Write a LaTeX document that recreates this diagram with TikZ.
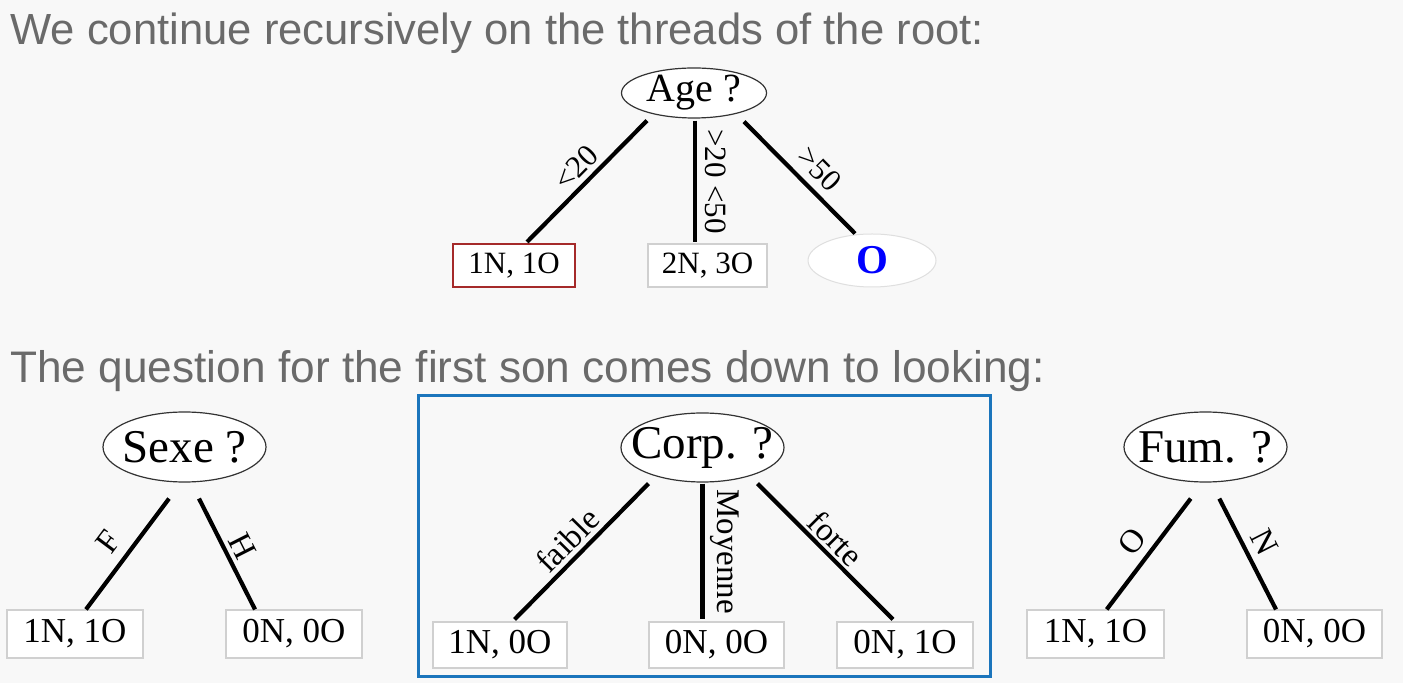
\documentclass[tikz,border=0pt]{standalone}
\usepackage{fontspec}
\setmainfont{Liberation Serif}
\newfontfamily\titlefont{Liberation Sans}
\usetikzlibrary{shapes.geometric,calc}
\definecolor{bg}{HTML}{F8F8F8}
\definecolor{titlegray}{HTML}{6A6A6A}
\definecolor{frameblue}{HTML}{1B75BC}
\definecolor{leafred}{HTML}{A52A2A}
\definecolor{leafgray}{HTML}{D0D0D0}
\begin{document}
\begin{tikzpicture}[x=0.5pt,y=-0.5pt,
  title/.style={font=\titlefont\fontsize{21.8pt}{26pt}\selectfont, text=titlegray, anchor=base west, inner sep=0},
  question/.style={ellipse, draw=black!80, line width=0.6pt, fill=white, inner sep=0},
  qA/.style={font=\fontsize{20pt}{24pt}\selectfont, inner sep=0},
  qB/.style={font=\fontsize{23.5pt}{28pt}\selectfont, inner sep=0},
  leaf/.style={rectangle, draw=leafgray, line width=0.6pt, fill=white, inner sep=0},
  leafA/.style={leaf, font=\fontsize{15.5pt}{18pt}\selectfont},
  leafB/.style={leaf, font=\fontsize{17.5pt}{21pt}\selectfont},
  edge/.style={line width=2.1pt, black},
  lblA/.style={font=\fontsize{15.5pt}{18pt}\selectfont},
  lblB/.style={font=\fontsize{16.5pt}{20pt}\selectfont}]
\path[fill=bg] (0,0) rectangle (1403,683);
\useasboundingbox (0,0) rectangle (1403,683);

% titles
\node[title] (t1) at (10,45) {We continue recursively on the threads of the root:};
\node[title, font=\titlefont\fontsize{22.1pt}{26pt}\selectfont] (t2) at (10,383) {The question for the first son comes down to looking:};

% ---- top tree ----
\node[question, minimum width=72.5pt, minimum height=25pt, label={[qA]center:Age ?}] (age) at (694,93) {};
\node[leafA, draw=leafred, line width=1pt, minimum width=61pt, minimum height=21.5pt] (la1) at (514,265.5) {1N, 1O};
\node[leafA, minimum width=59.5pt, minimum height=21.5pt] (la2) at (707.5,265.5) {2N, 3O};
\node[ellipse, draw=gray!25, line width=0.5pt, fill=white, inner sep=0, minimum width=64pt, minimum height=26.5pt,
      text=blue, font=\bfseries\fontsize{20.5pt}{24pt}\selectfont] (la3) at (872,260.5) {O};

\draw[edge] ($(age.south)+(-47,2)$) -- node[lblA, sloped, above, inner sep=2.3pt, pos=0.49] (e1) {<20} ($(la1.north)+(13,-1)$);
\draw[edge] ($(age.south)+(1,2)$) -- node[lblA, midway, rotate=-90, anchor=south, inner sep=4pt] (e2) {>20 <50} ($(la2.north)+(-12.5,-1)$);
\draw[edge] ($(age.south)+(50,3)$) -- node[lblA, sloped, above, inner sep=4pt, pos=0.55] (e3) {>50} ($(la3.north)+(-17,0)$);

% ---- Sexe tree ----
\node[question, minimum width=81.5pt, minimum height=35pt, label={[qB]center:Sexe ?}] (sx) at (184.5,447) {};
\node[leafB, minimum width=68pt, minimum height=24pt] (ls1) at (75,634) {1N, 1O};
\node[leafB, minimum width=68pt, minimum height=24pt] (ls2) at (294,634) {0N, 0O};
\draw[edge] ($(sx.south)+(-15.5,16)$) -- node[lblB, sloped, above, inner sep=4.8pt, pos=0.51] (e4) {F} ($(ls1.north)+(11,0)$);
\draw[edge] ($(sx.south)+(14.5,16)$) -- node[lblB, sloped, above, inner sep=2pt, pos=0.5] (e5) {H} ($(ls2.north)+(-39,0)$);

% ---- Corp tree (framed) ----
\draw[frameblue, line width=1.5pt] (418,396) rectangle (990,677);
\node[question, minimum width=81.5pt, minimum height=34.5pt, label={[qB]center:Corp. ?}] (cp) at (702.5,447.5) {};
\node[leafB, minimum width=67pt, minimum height=23pt] (lc1) at (500,645) {1N, 0O};
\node[leafB, minimum width=67.5pt, minimum height=23pt] (lc2) at (716.5,645) {0N, 0O};
\node[leafB, minimum width=68pt, minimum height=23pt] (lc3) at (905,645) {0N, 1O};
\draw[edge] ($(cp.south)+(-54,1)$) -- node[lblB, sloped, above, inner sep=2.1pt, pos=0.51] (e6) {faible} ($(lc1.north)+(14.6,-2)$);
\draw[edge] ($(cp.south)+(0,1)$) -- node[lblB, midway, rotate=-90, anchor=south, inner sep=3pt] (e7) {Moyenne} ($(lc2.north)+(-14,-2)$);
\draw[edge] ($(cp.south)+(55,1)$) -- node[lblB, sloped, above, inner sep=1.4pt, pos=0.49] (e8) {forte} ($(lc3.north)+(-12,-2)$);

% ---- Fum tree ----
\node[question, minimum width=81.5pt, minimum height=35pt, label={[qB]center:Fum. ?}] (fm) at (1205.5,447) {};
\node[leafB, minimum width=68.5pt, minimum height=24pt] (lf1) at (1095.5,634) {1N, 1O};
\node[leafB, minimum width=67.5pt, minimum height=24pt] (lf2) at (1314.5,634) {0N, 0O};
\draw[edge] ($(fm.south)+(-14.8,16)$) -- node[lblB, sloped, above, inner sep=4pt, pos=0.5] (e9) {O} ($(lf1.north)+(11.2,0)$);
\draw[edge] ($(fm.south)+(13.8,16)$) -- node[lblB, sloped, above, inner sep=3.9pt, pos=0.48] (e10) {N} ($(lf2.north)+(-38.5,0)$);
\end{tikzpicture}
\end{document}
